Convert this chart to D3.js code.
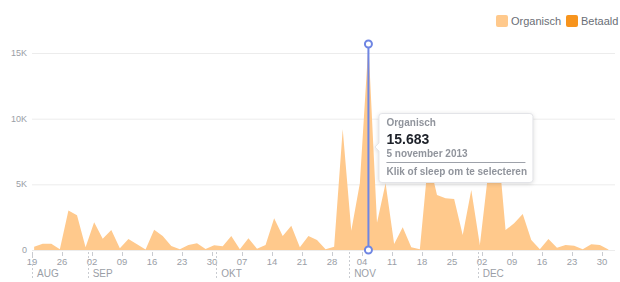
<!DOCTYPE html>
<html>
<head>
<meta charset="utf-8">
<script src="https://cdnjs.cloudflare.com/ajax/libs/d3/7.8.5/d3.min.js"></script>
<style>
body { margin: 0; background: #fff; font-family: "Liberation Sans", Arial, sans-serif; }
</style>
</head>
<body>
<script>
// one value every two days, starting 19 aug 2013
var startDate = "2013-08-19";
var stepDays = 2;
var organisch = [250, 480, 480, 50, 3000, 2640, 200, 2110, 860, 1520,
    130, 840, 430, 30, 1550, 1070, 300, 50, 380, 510,
    80, 360, 280, 1070, 50, 890, 100, 380, 2410, 1070,
    1850, 200, 1070, 760, 60, 250, 9190, 1470, 5080, 15683,
    2080, 5080, 460, 1730, 200, 50, 7000, 4190, 3940, 3880,
    1140, 4570, 380, 6000, 8890, 1520, 2030, 2740, 760, 50,
    840, 180, 380, 330, 50, 430, 380, 30];
var selectedIndex = 39;

var weekTicks = ["2013-08-19", "2013-08-26", "2013-09-02", "2013-09-09", "2013-09-16",
    "2013-09-23", "2013-09-30", "2013-10-07", "2013-10-14", "2013-10-21",
    "2013-10-28", "2013-11-04", "2013-11-11", "2013-11-18", "2013-11-25",
    "2013-12-02", "2013-12-09", "2013-12-16", "2013-12-23", "2013-12-30"];
var monthStarts = ["2013-08-19", "2013-09-01", "2013-10-01", "2013-11-01", "2013-12-01"];
var monthLabels = ["AUG", "SEP", "OKT", "NOV", "DEC"];
var yTicks = [0, 5000, 10000, 15000];
var yLabels = ["0", "5K", "10K", "15K"];
var legendLabels = ["Organisch", "Betaald"];
var legendColors = ["#ffc98c", "#f7941d"];

var width = 620, height = 282;
var parse = d3.timeParse("%Y-%m-%d");
var start = parse(startDate);

var data = organisch.map(function(v, i) {
    return {date: d3.timeHour.offset(start, 12 + 24 * stepDays * i), value: v};
});

var x = d3.scaleTime()
    .domain([parse("2013-08-19"), parse("2013-12-30")])
    .range([32, 602]);
var y = d3.scaleLinear()
    .domain([0, 15000])
    .range([250, 53]);

var svg = d3.select("body").append("svg")
    .attr("width", width)
    .attr("height", height)
    .style("display", "block");

// grid + y labels
svg.selectAll("line.grid")
    .data(yTicks)
  .enter().append("line")
    .attr("class", "grid")
    .attr("x1", 32).attr("x2", 615)
    .attr("y1", function(d) { return y(d) + 0.5; })
    .attr("y2", function(d) { return y(d) + 0.5; })
    .attr("stroke", "#ececec");

svg.selectAll("text.ylab")
    .data(yTicks)
  .enter().append("text")
    .attr("class", "ylab")
    .attr("x", 27)
    .attr("y", function(d) { return y(d); })
    .attr("dy", "0.35em")
    .attr("text-anchor", "end")
    .attr("font-size", 9)
    .attr("fill", "#9a9ea6")
    .text(function(d, i) { return yLabels[i]; });

// area
var area = d3.area()
    .x(function(d) { return x(d.date); })
    .y0(y(0))
    .y1(function(d) { return y(d.value); });

svg.append("path")
    .datum(data)
    .attr("d", area)
    .attr("fill", legendColors[0]);

// x axis: week ticks
svg.selectAll("line.wtick")
    .data(weekTicks)
  .enter().append("line")
    .attr("class", "wtick")
    .attr("x1", function(d) { return Math.round(x(parse(d))) + 0.5; })
    .attr("x2", function(d) { return Math.round(x(parse(d))) + 0.5; })
    .attr("y1", 252).attr("y2", 256)
    .attr("stroke", "#c9ccd1");

svg.selectAll("text.wlab")
    .data(weekTicks)
  .enter().append("text")
    .attr("class", "wlab")
    .attr("x", function(d) { return x(parse(d)); })
    .attr("y", 265)
    .attr("text-anchor", "middle")
    .attr("font-size", 9.5)
    .attr("fill", "#9a9ea6")
    .text(function(d) { return d3.timeFormat("%d")(parse(d)); });

// month separators
svg.selectAll("line.mtick")
    .data(monthStarts)
  .enter().append("line")
    .attr("class", "mtick")
    .attr("x1", function(d) { return Math.round(x(parse(d))) + 0.5; })
    .attr("x2", function(d) { return Math.round(x(parse(d))) + 0.5; })
    .attr("y1", 252).attr("y2", 279)
    .attr("stroke", "#c9ccd1")
    .attr("stroke-dasharray", "2,2");

svg.selectAll("text.mlab")
    .data(monthStarts)
  .enter().append("text")
    .attr("class", "mlab")
    .attr("x", function(d) { return x(parse(d)) + 5; })
    .attr("y", 277)
    .attr("font-size", 10)
    .attr("fill", "#9a9ea6")
    .text(function(d, i) { return monthLabels[i]; });

// selected point
var sel = data[selectedIndex];
var sx = x(sel.date);
var blue = "#6f86e3";

svg.append("line")
    .attr("x1", sx).attr("x2", sx)
    .attr("y1", y(sel.value)).attr("y2", y(0))
    .attr("stroke", blue)
    .attr("stroke-width", 2);

svg.selectAll("circle.handle")
    .data([sel.value, 0])
  .enter().append("circle")
    .attr("class", "handle")
    .attr("cx", sx)
    .attr("cy", function(d) { return y(d); })
    .attr("r", 3.5)
    .attr("fill", "#fff")
    .attr("stroke", blue)
    .attr("stroke-width", 2);

// tooltip
var tx = sx + 10, ty = 113, tw = 155, th = 70;
var tip = svg.append("g")
    .attr("transform", "translate(" + tx + "," + ty + ")")
    .style("filter", "drop-shadow(0px 1px 2px rgba(0,0,0,0.14))");

tip.append("path")
    .attr("d", "M0.5,3.5 Q0.5,0.5 3.5,0.5 L" + (tw - 3.5) + ",0.5 Q" + (tw - 0.5) + ",0.5 " + (tw - 0.5) + ",3.5" +
        " L" + (tw - 0.5) + "," + (th - 3.5) + " Q" + (tw - 0.5) + "," + (th - 0.5) + " " + (tw - 3.5) + "," + (th - 0.5) +
        " L3.5," + (th - 0.5) + " Q0.5," + (th - 0.5) + " 0.5," + (th - 3.5) +
        " L0.5,38 L-3.5,34 L0.5,30 Z")
    .attr("fill", "#fff")
    .attr("stroke", "#e3e4e8");

var fmt = d3.formatLocale({decimal: ",", thousands: ".", grouping: [3], currency: ["€", ""]}).format(",d");
var nlDate = d3.timeFormatLocale({
    dateTime: "%a %e %B %Y %X", date: "%d-%m-%Y", time: "%H:%M:%S", periods: ["AM", "PM"],
    days: ["zondag", "maandag", "dinsdag", "woensdag", "donderdag", "vrijdag", "zaterdag"],
    shortDays: ["zo", "ma", "di", "wo", "do", "vr", "za"],
    months: ["januari", "februari", "maart", "april", "mei", "juni", "juli", "augustus", "september", "oktober", "november", "december"],
    shortMonths: ["jan", "feb", "mrt", "apr", "mei", "jun", "jul", "aug", "sep", "okt", "nov", "dec"]
}).format("%-d %B %Y");

tip.append("text")
    .attr("x", 8).attr("y", 13)
    .attr("font-size", 10).attr("font-weight", "bold")
    .attr("fill", "#90949c")
    .text(legendLabels[0]);
tip.append("text")
    .attr("x", 8).attr("y", 30.5)
    .attr("font-size", 14).attr("font-weight", "bold")
    .attr("fill", "#1d2129")
    .text(fmt(sel.value));
tip.append("text")
    .attr("x", 8).attr("y", 43.5)
    .attr("font-size", 10).attr("font-weight", "bold")
    .attr("fill", "#90949c")
    .text(nlDate(sel.date));
tip.append("line")
    .attr("x1", 8).attr("x2", 147)
    .attr("y1", 49.5).attr("y2", 49.5)
    .attr("stroke", "#9ea2aa");
tip.append("text")
    .attr("x", 8).attr("y", 62)
    .attr("font-size", 10).attr("font-weight", "bold")
    .attr("fill", "#90949c")
    .text("Klik of sleep om te selecteren");

// legend
var legend = svg.append("g");
var lx = [496, 566];
legendLabels.forEach(function(l, i) {
    legend.append("rect")
        .attr("x", lx[i]).attr("y", 15)
        .attr("width", 12).attr("height", 12)
        .attr("rx", 2)
        .attr("fill", legendColors[i]);
    legend.append("text")
        .attr("x", lx[i] + 15).attr("y", 25)
        .attr("font-size", 11)
        .attr("fill", "#6a6e76")
        .text(l);
});
</script>
</body>
</html>
